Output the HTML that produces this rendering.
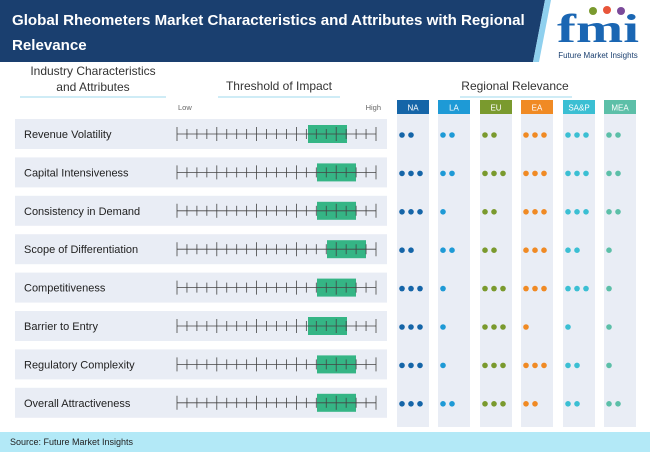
<!DOCTYPE html>
<html><head><meta charset="utf-8"><style>
body{margin:0;width:650px;height:452px;overflow:hidden;background:#fff;font-family:"Liberation Sans",sans-serif}
</style></head><body>
<svg width="650" height="452" xmlns="http://www.w3.org/2000/svg" font-family="Liberation Sans, sans-serif">
<polygon points="0,0 545,0 533,62 0,62" fill="#1a3f6f"/>
<polygon points="545,0 551,0 539,62 533,62" fill="#8fd0ee"/>
<text x="12" y="25" fill="#fff" font-size="15.1" font-weight="bold">Global Rheometers Market Characteristics and Attributes with Regional</text>
<text x="12" y="50" fill="#fff" font-size="15.1" font-weight="bold">Relevance</text>
<text x="598" y="42" fill="#1a66b3" font-size="40" font-weight="bold" font-family="Liberation Serif, serif" text-anchor="middle" textLength="82" lengthAdjust="spacingAndGlyphs">fmi</text>
<circle cx="593" cy="11" r="4" fill="#7a9a2e"/><circle cx="607" cy="10" r="4" fill="#e8553a"/><circle cx="621" cy="11" r="4" fill="#7b4a9a"/>
<text x="598" y="58" fill="#1a3f6f" font-size="8" text-anchor="middle">Future Market Insights</text>
<text x="93" y="75" font-size="12" fill="#333" text-anchor="middle">Industry Characteristics</text>
<text x="93" y="91" font-size="12" fill="#333" text-anchor="middle">and Attributes</text>
<line x1="20" y1="97" x2="166" y2="97" stroke="#9fd8ec"/>
<text x="279" y="90" font-size="12" fill="#333" text-anchor="middle">Threshold of Impact</text>
<line x1="218" y1="97" x2="340" y2="97" stroke="#9fd8ec"/>
<text x="515" y="90" font-size="12" fill="#333" text-anchor="middle">Regional Relevance</text>
<line x1="460" y1="97" x2="572" y2="97" stroke="#9fd8ec"/>
<text x="178" y="110" font-size="7.5" fill="#666">Low</text>
<text x="381" y="110" font-size="7.5" fill="#666" text-anchor="end">High</text>
<g id="cols"></g>
<g id="rows"></g>
<rect x="0" y="432" width="650" height="20" fill="#b3e9f7"/>
<text x="10" y="445" font-size="9" fill="#222">Source: Future Market Insights</text>
</svg>
<script>
const NS="http://www.w3.org/2000/svg";
function el(p,t,a,txt){const e=document.createElementNS(NS,t);for(const k in a)e.setAttribute(k,a[k]);if(txt)e.textContent=txt;p.appendChild(e);return e;}
const cols=document.getElementById('cols'),rows=document.getElementById('rows');
const reg=[["NA","#1565a8",397],["LA","#1e9ad6",438],["EU","#7a9a2e",480],["EA","#f08a24",521],["SA&P","#3bbfd3",563],["MEA","#5cbfa8",604]];
reg.forEach(r=>{el(cols,'rect',{x:r[2],y:114,width:32,height:313,fill:'#e9edf5'});
el(cols,'rect',{x:r[2],y:100,width:32,height:14,fill:r[1]});
el(cols,'text',{x:r[2]+16,y:110.5,'font-size':8,fill:'#fff','text-anchor':'middle'},r[0]);});
const data=[["Revenue Volatility",308,[2,2,2,3,3,2]],["Capital Intensiveness",317,[3,2,3,3,3,2]],["Consistency in Demand",317,[3,1,2,3,3,2]],["Scope of Differentiation",327,[2,2,2,3,2,1]],["Competitiveness",317,[3,1,3,3,3,1]],["Barrier to Entry",308,[3,1,3,1,1,1]],["Regulatory Complexity",317,[3,1,3,3,2,1]],["Overall Attractiveness",317,[3,2,3,2,2,2]]];
data.forEach((d,i)=>{const cy=134+i*38.4;
el(rows,'rect',{x:15,y:cy-15,width:372,height:30,fill:'#e9edf5'});
el(rows,'text',{x:24,y:cy+4,'font-size':11,fill:'#222'},d[0]);
el(rows,'rect',{x:d[1],y:cy-9,width:39,height:18,fill:'#35b585'});
el(rows,'line',{x1:177,y1:cy,x2:376,y2:cy,stroke:'#444','stroke-width':0.8});
for(let t=0;t<=20;t++){const x=177+t*9.95;const big=(t%4==0);el(rows,'line',{x1:x,y1:cy-(big?7:5),x2:x,y2:cy+(big?7:5),stroke:'#444','stroke-width':0.8});}
d[2].forEach((n,j)=>{for(let k=0;k<n;k++)el(rows,'circle',{cx:reg[j][2]+5+k*9,cy:cy+1,r:2.8,fill:reg[j][1]});});
});
</script>
</body></html>
